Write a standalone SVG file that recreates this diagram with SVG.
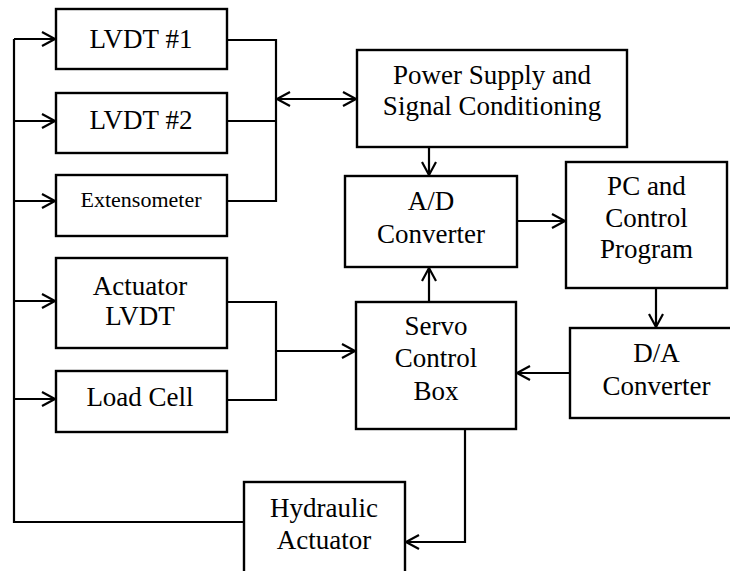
<svg xmlns="http://www.w3.org/2000/svg" width="730" height="571" viewBox="0 0 730 571">
<defs>
<marker id="ah" markerUnits="userSpaceOnUse" markerWidth="20" markerHeight="20" viewBox="-14 -10 16 20" refX="0" refY="0" orient="auto-start-reverse">
<path d="M-13,-7 L0,0 L-13,7" fill="none" stroke="#000" stroke-width="2.2"/>
</marker>
<style>
.box{fill:#fff;stroke:#000;stroke-width:2.4}
.ln{fill:none;stroke:#000;stroke-width:2.2}
.t{font-family:"Liberation Serif","Times New Roman",serif;font-size:27px;fill:#000;text-anchor:middle}
.s{font-size:22px}
</style>
</defs>
<rect width="730" height="571" fill="#fff"/>
<g id="connectors">
<path class="ln" d="M14,39 V522 H244"/>
<path class="ln" d="M14,39 H55" marker-end="url(#ah)"/>
<path class="ln" d="M14,121 H55" marker-end="url(#ah)"/>
<path class="ln" d="M14,201 H55" marker-end="url(#ah)"/>
<path class="ln" d="M14,301 H55" marker-end="url(#ah)"/>
<path class="ln" d="M14,399 H55" marker-end="url(#ah)"/>
<path class="ln" d="M227,40 H276 V201 H227"/>
<path class="ln" d="M227,121 H276"/>
<path class="ln" d="M277,99 H356" marker-start="url(#ah)" marker-end="url(#ah)"/>
<path class="ln" d="M227,302 H276 V400 H227"/>
<path class="ln" d="M276,351 H355" marker-end="url(#ah)"/>
<path class="ln" d="M429,147 V175" marker-end="url(#ah)"/>
<path class="ln" d="M517,221 H565" marker-end="url(#ah)"/>
<path class="ln" d="M429,302 V268" marker-end="url(#ah)"/>
<path class="ln" d="M656,288 V327" marker-end="url(#ah)"/>
<path class="ln" d="M570,373 H517" marker-end="url(#ah)"/>
<path class="ln" d="M465,429 V542 H406" marker-end="url(#ah)"/>
</g>
<g id="lvdt1"><rect class="box" x="56" y="9" width="171" height="60"/><text class="t" x="141" y="48">LVDT #1</text></g>
<g id="lvdt2"><rect class="box" x="56" y="93" width="171" height="60"/><text class="t" x="141" y="129">LVDT #2</text></g>
<g id="extensometer"><rect class="box" x="56" y="175" width="171" height="61"/><text class="t s" x="141" y="207">Extensometer</text></g>
<g id="actuator-lvdt"><rect class="box" x="56" y="258" width="171" height="90"/><text class="t" x="140" y="295">Actuator</text><text class="t" x="140" y="325">LVDT</text></g>
<g id="load-cell"><rect class="box" x="56" y="371" width="171" height="61"/><text class="t" x="140" y="406">Load Cell</text></g>
<g id="power-supply"><rect class="box" x="357" y="50" width="270" height="97"/><text class="t" x="492" y="84">Power Supply and</text><text class="t" x="492" y="115">Signal Conditioning</text></g>
<g id="ad-converter"><rect class="box" x="345" y="176" width="172" height="91"/><text class="t" x="431" y="210">A/D</text><text class="t" x="431" y="243">Converter</text></g>
<g id="pc"><rect class="box" x="566" y="162" width="161" height="126"/><text class="t" x="646.5" y="195">PC and</text><text class="t" x="646.5" y="227">Control</text><text class="t" x="646.5" y="258">Program</text></g>
<g id="servo"><rect class="box" x="356" y="302" width="160" height="127"/><text class="t" x="436" y="335">Servo</text><text class="t" x="436" y="367">Control</text><text class="t" x="436" y="400">Box</text></g>
<g id="da-converter"><rect class="box" x="570" y="328" width="170" height="90"/><text class="t" x="656.5" y="362">D/A</text><text class="t" x="656.5" y="395">Converter</text></g>
<g id="hydraulic"><rect class="box" x="244" y="482" width="161" height="100"/><text class="t" x="324" y="517">Hydraulic</text><text class="t" x="324" y="549">Actuator</text></g>
</svg>
